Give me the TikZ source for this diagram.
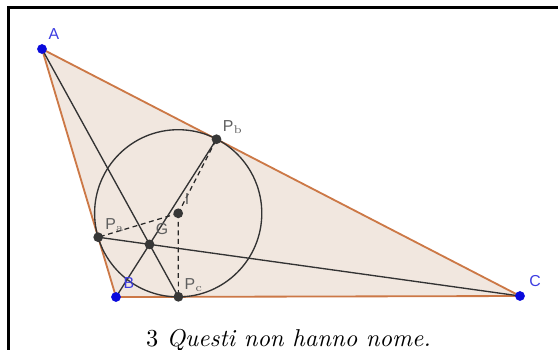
\documentclass[tikz,border=0pt]{standalone}
\usepackage{fontspec}
\usepackage{tikz}
\usetikzlibrary{positioning,calc}
\newfontfamily\ggbfont{Liberation Sans}
\definecolor{triedge}{RGB}{204,120,70}
\definecolor{trifill}{RGB}{241,231,223}
\definecolor{ptblue}{RGB}{10,10,220}
\definecolor{lblblue}{RGB}{60,60,225}
\definecolor{ptgray}{RGB}{55,55,55}

\begin{document}
\begin{tikzpicture}[
  x=0.41pt, y=-0.41pt,
  tri/.style={draw=triedge, line width=0.75pt, fill=trifill, line join=round},
  cev/.style={draw=black!80, line width=0.55pt},
  rad/.style={draw=black!85, line width=0.5pt, dashed, dash pattern=on 2pt off 1.5pt},
  incirc/.style={draw=black!80, line width=0.55pt},
  vtx/.style={circle, fill=ptblue, inner sep=0pt, minimum size=4pt},
  ftp/.style={circle, fill=ptgray, inner sep=0pt, minimum size=4pt},
  vlbl/.style={font=\ggbfont\fontsize{6.5}{7}\selectfont, text=lblblue, inner sep=0pt},
  flbl/.style={font=\ggbfont\fontsize{6.5}{7}\selectfont, text=ptgray!80, inner sep=0pt},
]
\useasboundingbox (0,0) rectangle (558,349);
\clip (0,0) rectangle (558,349);

% frame
\draw[line width=1.2pt] (8.3,7.4) rectangle (600,400);

% vertices and incircle
\coordinate (A) at (42,49);
\coordinate (B) at (116,297);
\coordinate (C) at (520,296);
\coordinate (I) at (178.2,213.3);
\coordinate (Pa) at (98.2,237.2);
\coordinate (Pb) at (216.5,139.2);
\coordinate (Pc) at (178.4,296.8);

% triangle
\draw[tri] (A) -- (B) -- (C) -- cycle;
\draw[incirc] (I) circle[radius=83.6];

% cevians
\coordinate (G) at (intersection of A--Pc and C--Pa);
\draw[cev] (A) -- (Pc);
\draw[cev] (C) -- (Pa);
\draw[cev] (B) -- (Pb);

% radii
\draw[rad] (I) -- (Pa);
\draw[rad] (I) -- (Pb);
\draw[rad] (I) -- (Pc);

% points
\node[vtx] (nA) at (A) {};
\node[vtx] (nB) at (B) {};
\node[vtx] (nC) at (C) {};
\node[ftp] (nPa) at (Pa) {};
\node[ftp] (nPb) at (Pb) {};
\node[ftp] (nPc) at (Pc) {};
\node[ftp] (nG) at (G) {};
\node[ftp] (nI) at (I) {};

% labels
\node[vlbl] (lA) at (54,34) {A};
\node[vlbl] (lB) at (129,283) {B};
\node[vlbl] (lC) at (535,281) {C};
\node[flbl] (lPa) at (115,225) {P$_{\mathrm{a}}$};
\node[flbl] (lPb) at (233,127) {P$_{\mathrm{b}}$};
\node[flbl] (lPc) at (194,285) {P$_{\mathrm{c}}$};
\node[flbl] (lG) at (162,229) {G};
\node[flbl] (lI) at (187,199) {I};

% caption
\node[anchor=base, inner sep=0pt] (cap) at (288.5,346) {3 \textit{Questi non hanno nome.}};
\end{tikzpicture}
\end{document}
